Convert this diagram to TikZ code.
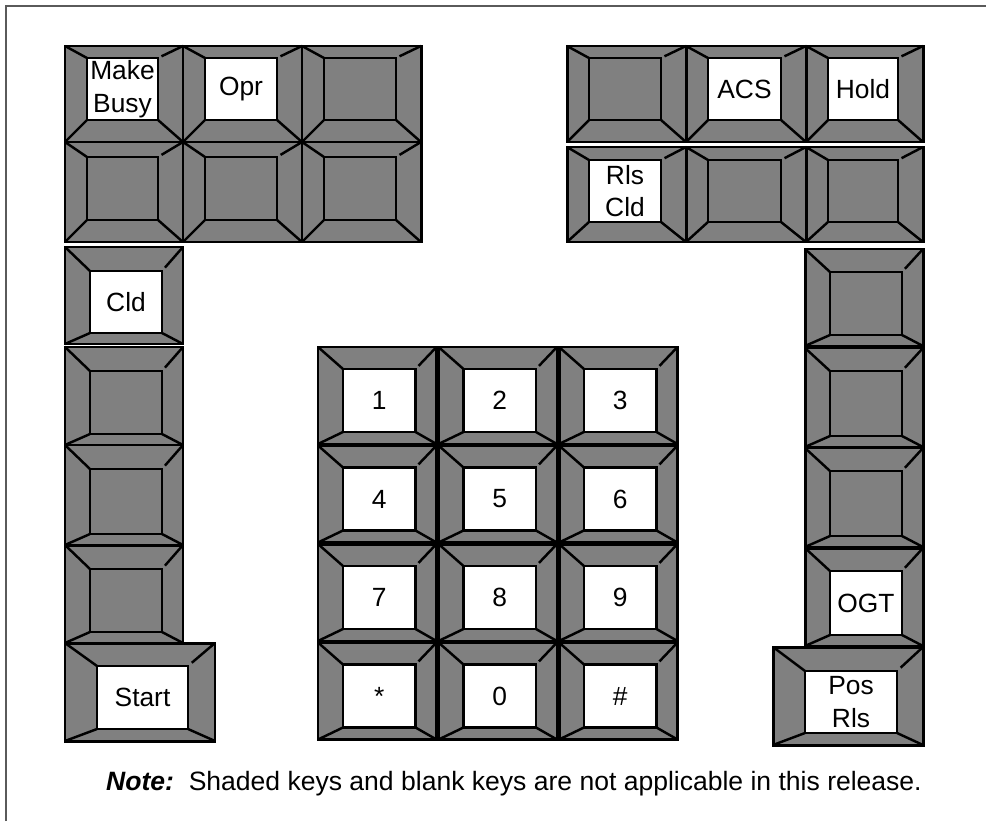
\documentclass[tikz,border=0pt]{standalone}
\usepackage{fontspec}
\setmainfont{Liberation Sans}
\usetikzlibrary{calc}
\definecolor{keygray}{RGB}{128,128,128}
\definecolor{framegray}{RGB}{90,90,90}
\tikzset{
  keyrim/.style   = {draw=black, fill=keygray, line width=1.7pt},
  keybevel/.style = {draw=black, line width=1.4pt},
  keyface/.style  = {draw=black, fill=white, line width=1.4pt},
  keyblank/.style = {keyface, fill=keygray},            % a key with no use here
  keytext/.style  = {font=\fontsize{15}{18.5}\selectfont, align=center, inner sep=0pt},
  notetext/.style = {font=\fontsize{15.1}{18}\selectfont, inner sep=0pt, anchor=base},
  frameline/.style= {draw=framegray, line width=0.7pt},
}
% face insets: left, right, top, bottom (in px)
\newcommand{\kset}[4]{\def\kl{#1}\def\kr{#2}\def\kt{#3}\def\kb{#4}}
\kset{22}{25}{12}{22}
% \pkey[face style]{name}{x1}{y1}{x2}{y2}{label}
\newcommand{\pkey}[7][keyface]{%
  \coordinate (#2-onw) at (#3,#4);
  \coordinate (#2-one) at (#5,#4);
  \coordinate (#2-osw) at (#3,#6);
  \coordinate (#2-ose) at (#5,#6);
  \coordinate (#2-nw) at ({#3+\kl},{#4+\kt});
  \coordinate (#2-ne) at ({#5-\kr},{#4+\kt});
  \coordinate (#2-sw) at ({#3+\kl},{#6-\kb});
  \coordinate (#2-se) at ({#5-\kr},{#6-\kb});
  \draw[keyrim] (#2-onw) rectangle (#2-ose);
  \draw[keybevel] (#2-onw) -- (#2-nw)
                  (#2-one) -- ($(#2-one)!0.86!(#2-ne)$)
                  (#2-osw) -- (#2-sw)
                  (#2-ose) -- (#2-se);
  \draw[#1] (#2-nw) rectangle (#2-se);
  \node[keytext] (#2) at ($(#2-nw)!0.5!(#2-se)$) {#7};
}

\begin{document}
\begin{tikzpicture}[x=0.02cm, y=-0.02cm]
  \useasboundingbox (0,0) rectangle (986,821);
  \draw[frameline] (6,821) -- (6,6) -- (986,6);

  % top left block
  \kset{22}{25}{12}{22}
  \pkey{mkbusy}{65}{46}{183}{142}{Make\\Busy}
  \pkey{opr}{183}{46}{302}{142}{Opr}
  \pkey[keyblank]{tl3}{302}{46}{421}{142}{}
  \kset{22}{25}{15}{22}
  \pkey[keyblank]{tl4}{65}{142}{183}{242}{}
  \pkey[keyblank]{tl5}{183}{142}{302}{242}{}
  \pkey[keyblank]{tl6}{302}{142}{421}{242}{}

  % top right block
  \kset{22}{25}{12}{22}
  \pkey[keyblank]{tr1}{567}{46}{686}{142}{}
  \pkey{acs}{686}{46}{806}{142}{ACS}
  \pkey{hold}{806}{46}{923}{142}{Hold}
  \kset{22}{25}{13}{20}
  \pkey{rlscld}{567}{147}{686}{242}{Rls\\Cld}
  \pkey[keyblank]{tr5}{686}{147}{806}{242}{}
  \pkey[keyblank]{tr6}{806}{147}{923}{242}{}

  % left column
  \kset{25}{21}{24}{11}
  \pkey{cld}{65}{247}{183}{344}{Cld}
  \pkey[keyblank]{lc2}{65}{347}{183}{445}{}
  \pkey[keyblank]{lc3}{65}{445}{183}{545}{}
  \pkey[keyblank]{lc4}{65}{545}{183}{643}{}
  \kset{32}{27}{23}{12}
  \pkey{start}{65}{643}{215}{741}{Start}

  % keypad
  \kset{25}{21}{22}{12}
  \foreach \klab [count=\i from 0] in {1,2,3,4,5,6,7,8,9,*,0,\#} {
    \pgfmathsetmacro{\xa}{318+120.5*mod(\i,3)}
    \pgfmathsetmacro{\ya}{347+98.5*int(\i/3)}
    \pgfmathsetmacro{\xb}{\xa+118.5}
    \pgfmathsetmacro{\yb}{\ya+97}
    \pkey{pad\i}{\xa}{\ya}{\xb}{\yb}{\klab}
  }

  % right column
  \kset{25}{21}{23}{11}
  \pkey[keyblank]{rc1}{805}{249}{923}{346}{}
  \pkey[keyblank]{rc2}{805}{348}{923}{447}{}
  \pkey[keyblank]{rc3}{805}{448}{923}{547}{}
  \pkey{ogt}{805}{548}{923}{646}{OGT}
  \kset{32}{26}{24}{12}
  \pkey{posrls}{773}{647}{923}{745}{Pos\\Rls}

  \node[notetext] (note) at (514,790)
    {\textbf{\textit{Note:}}\ \ Shaded keys and blank keys are not applicable in this release.};
\end{tikzpicture}
\end{document}
